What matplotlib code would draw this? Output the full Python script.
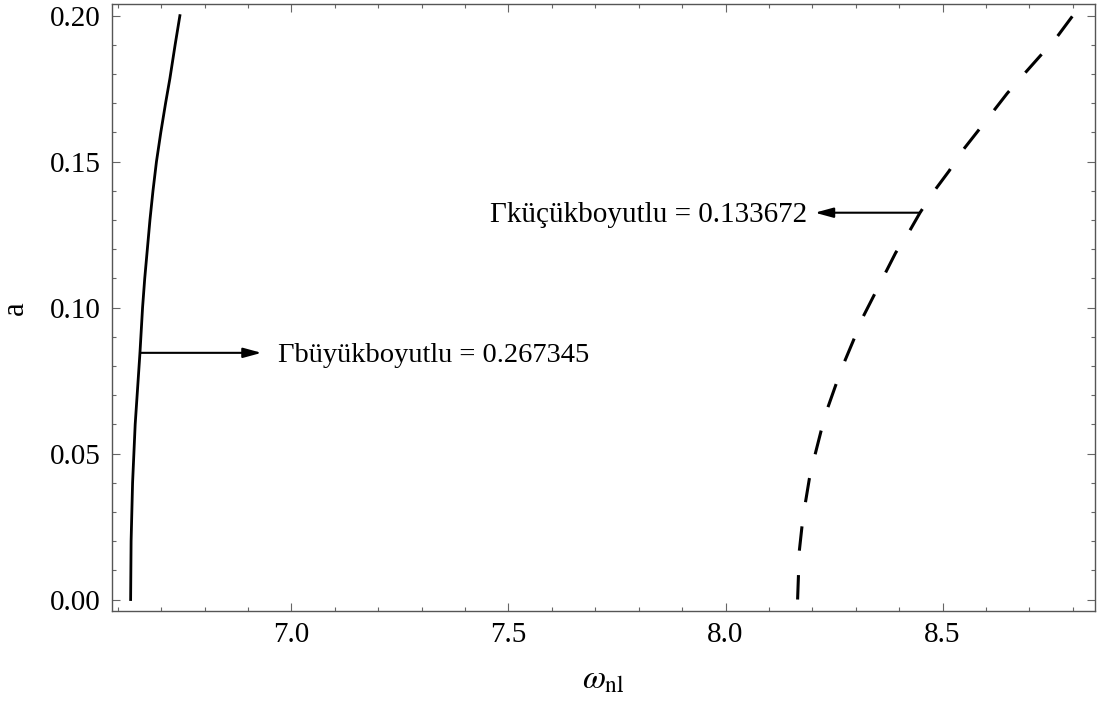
import numpy as np
import matplotlib.pyplot as plt
from matplotlib.ticker import MultipleLocator, FormatStrFormatter

plt.rcParams['font.family'] = ['Liberation Serif', 'DejaVu Serif']
plt.rcParams['mathtext.fontset'] = 'stix'

# Backbone curves: amplitude a against nonlinear frequency omega_nl
a_large = [0.0, 0.02, 0.04, 0.06, 0.0845, 0.10, 0.11, 0.12, 0.13, 0.14, 0.15,
           0.16, 0.17, 0.1785, 0.19, 0.20]
w_large = [6.6295, 6.6306, 6.634, 6.640, 6.651, 6.657, 6.662, 6.668, 6.674, 6.681, 6.689,
           6.699, 6.710, 6.720, 6.732, 6.743]

a_small = [0.0, 0.0084, 0.0167, 0.0249, 0.0332, 0.0413, 0.0495, 0.0577, 0.0655,
           0.0735, 0.0811, 0.0889, 0.0966, 0.1039, 0.1115, 0.1188, 0.126, 0.1325,
           0.14, 0.1468, 0.1536, 0.1604, 0.1667, 0.1734, 0.1797, 0.1859, 0.1922, 0.20]
w_small = [8.166, 8.168, 8.170, 8.176, 8.184, 8.193, 8.206, 8.220, 8.235,
           8.254, 8.273, 8.295, 8.316, 8.341, 8.367, 8.392, 8.423, 8.448,
           8.481, 8.515, 8.545, 8.581, 8.614, 8.649, 8.686, 8.723, 8.761, 8.80]

gamma_large = 0.267345
gamma_small = 0.133672

fig = plt.figure(figsize=(11.02, 7.11), dpi=100)
ax = fig.add_axes([0.1014, 0.1402, 0.8922, 0.8538])

ax.plot(w_large, a_large, color='black', lw=2.0)
ax.plot(w_small, a_small, color='black', lw=2.2, linestyle=(0, (8, 8)))

ax.set_xlim(6.586, 8.851)
ax.set_ylim(-0.00404, 0.2039)

ax.xaxis.set_major_locator(MultipleLocator(0.5))
ax.xaxis.set_minor_locator(MultipleLocator(0.1))
ax.xaxis.set_major_formatter(FormatStrFormatter('%.1f'))
ax.yaxis.set_major_locator(MultipleLocator(0.05))
ax.yaxis.set_minor_locator(MultipleLocator(0.01))
ax.yaxis.set_major_formatter(FormatStrFormatter('%.2f'))

ax.tick_params(which='both', direction='in', top=True, right=True,
               color='#666666', width=0.8, labelsize=21)
ax.tick_params(which='major', length=5.5)
ax.tick_params(which='minor', length=3)
ax.tick_params(axis='x', pad=8)
ax.tick_params(axis='y', pad=8)
for sp in ax.spines.values():
    sp.set_color('#555555')
    sp.set_linewidth(1.0)

arrow = dict(arrowstyle='-|>,head_length=0.55,head_width=0.15', lw=1.5,
             color='black', shrinkA=0, shrinkB=0, mutation_scale=20)

# labels pointing at each curve
ax.annotate('', xy=(6.931, 0.0845), xytext=(6.651, 0.0845), arrowprops=arrow)
ax.text(6.969, 0.0814, 'Γbüyükboyutlu = %.6f' % gamma_large,
        fontsize=20.5, va='baseline', ha='left')

ax.annotate('', xy=(8.206, 0.1325), xytext=(8.448, 0.1325), arrowprops=arrow)
ax.text(8.187, 0.1294, 'Γküçükboyutlu = %.6f' % gamma_small,
        fontsize=21, va='baseline', ha='right')

ax.set_xlabel(r'$\omega_{\mathrm{nl}}$', fontsize=24, labelpad=12)
ax.set_ylabel('a', fontsize=22, labelpad=14)

fig.savefig('out.png', dpi=100)
